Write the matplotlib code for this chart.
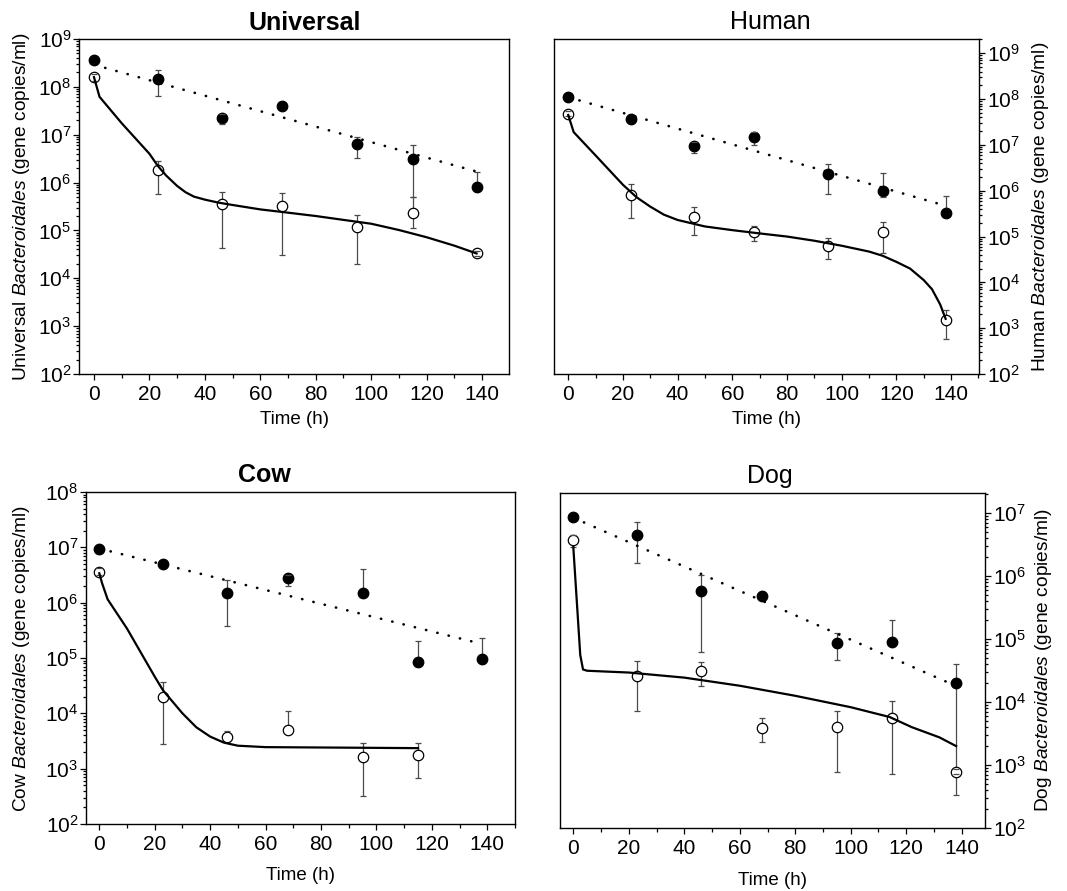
import numpy as np
import matplotlib
matplotlib.use("Agg")
import matplotlib.pyplot as plt
from matplotlib.ticker import LogLocator, MultipleLocator, NullFormatter

plt.rcParams['font.family'] = ['Liberation Sans', 'DejaVu Sans']
plt.rcParams['mathtext.fontset'] = 'custom'
plt.rcParams['mathtext.rm'] = 'Liberation Sans'
plt.rcParams['mathtext.it'] = 'Liberation Sans:italic'
plt.rcParams['mathtext.bf'] = 'Liberation Sans:bold'

nan = np.nan
time = [0, 23, 46, 68, 95, 115, 138]

# ---------------- Universal ----------------
uni_filled = [3.7e8, 1.45e8, 2.2e7, 4.0e7, 6.3e6, 3.1e6, 7.9e5]
uni_filled_hi = [nan, 2.3e8, 2.75e7, nan, 9.1e6, 6.2e6, 1.66e6]
uni_filled_lo = [nan, 6.3e7, 1.7e7, nan, 3.2e6, 5.0e5, nan]
uni_open = [1.6e8, 1.8e6, 3.5e5, 3.2e5, 1.2e5, 2.3e5, 3.3e4]
uni_open_hi = [1.9e8, 2.8e6, 6.5e5, 6.2e5, 2.1e5, 4.9e5, 3.8e4]
uni_open_lo = [1.35e8, 5.8e5, 4.3e4, 3.1e4, 2.0e4, 1.1e5, 2.9e4]
uni_dot_t = [0, 138]
uni_dot = [2.9e8, 1.7e6]
uni_fit_t = [0, 2, 10, 20, 23, 26, 30, 33, 36, 40, 45, 50, 60, 70, 80, 90, 100, 110, 120, 130, 138]
uni_fit = [1.6e8, 6.2e7, 1.74e7, 4.0e6, 2.24e6, 1.41e6, 8.5e5, 6.3e5, 5.1e5, 4.4e5, 3.8e5, 3.4e5,
           2.75e5, 2.35e5, 2.0e5, 1.66e5, 1.38e5, 1.02e5, 7.2e4, 4.8e4, 3.3e4]

# ---------------- Human ----------------
hum_filled = [1.1e8, 3.6e7, 9.5e6, 1.5e7, 2.3e6, 1.0e6, 3.2e5]
hum_filled_hi = [nan, nan, 1.17e7, 1.95e7, 3.8e6, 2.45e6, 7.8e5]
hum_filled_lo = [nan, nan, 6.8e6, 1.0e7, 8.3e5, 7.4e5, nan]
hum_open = [4.8e7, 8.1e5, 2.7e5, 1.23e5, 6.3e4, 1.23e5, 1.5e3]
hum_open_hi = [5.5e7, 1.38e6, 4.4e5, 1.66e5, 9.5e4, 2.1e5, 2.5e3]
hum_open_lo = [4.2e7, 2.6e5, 1.07e5, 8.1e4, 3.3e4, 4.3e4, 5.8e2]
hum_dot_t = [0, 138]
hum_dot = [1.1e8, 4.7e5]
hum_fit_t = [0, 2, 10, 20, 25, 30, 35, 40, 50, 60, 70, 80, 90, 100, 110, 115, 120, 125, 130, 133, 136, 138]
hum_fit = [4.5e7, 1.9e7, 5.9e6, 1.35e6, 7.2e5, 4.5e5, 3.0e5, 2.3e5, 1.66e5, 1.38e5, 1.17e5, 1.0e5,
           8.1e4, 6.3e4, 4.7e4, 3.8e4, 2.8e4, 2.0e4, 1.12e4, 7.1e3, 3.3e3, 1.6e3]

# ---------------- Cow ----------------
cow_filled = [9.5e6, 5.1e6, 1.5e6, 2.75e6, 1.5e6, 8.5e4, 9.5e4]
cow_filled_hi = [nan, nan, 2.6e6, 3.2e6, 4.0e6, 2.0e5, 2.3e5]
cow_filled_lo = [nan, nan, 3.8e5, 2.0e6, nan, nan, nan]
cow_open_time = [0, 23, 46, 68, 95, 115]
cow_open = [3.6e6, 2.0e4, 3.8e3, 5.1e3, 1.6e3, 1.8e3]
cow_open_hi = [4.2e6, 3.7e4, 4.8e3, 1.12e4, 2.9e3, 2.9e3]
cow_open_lo = [3.2e6, 2.75e3, nan, nan, 3.2e2, 6.8e2]
cow_dot_t = [0, 138]
cow_dot = [9.5e6, 1.8e5]
cow_fit_t = [0, 1, 3, 10, 20, 23, 30, 35, 40, 45, 50, 60, 115]
cow_fit = [3.4e6, 2.25e6, 1.15e6, 3.4e5, 4.6e4, 2.6e4, 1.0e4, 5.6e3, 3.8e3, 2.95e3, 2.6e3, 2.45e3, 2.35e3]

# ---------------- Dog ----------------
dog_filled = [8.7e6, 4.5e6, 5.8e5, 4.9e5, 8.7e4, 8.9e4, 2.0e4]
dog_filled_hi = [nan, 7.4e6, 1.05e6, nan, 1.26e5, 2.0e5, 4.1e4]
dog_filled_lo = [nan, 1.6e6, 6.3e4, nan, 4.7e4, nan, 7.2e2]
dog_open = [3.7e6, 2.6e4, 3.1e4, 3.9e3, 4.0e3, 5.6e3, 7.8e2]
dog_open_hi = [4.5e6, 4.5e4, 4.3e4, 5.5e3, 7.2e3, 1.05e4, 8.7e2]
dog_open_lo = [2.9e6, 7.2e3, 1.8e4, 2.3e3, 7.8e2, 7.1e2, 3.3e2]
dog_dot_t = [0, 138]
dog_dot = [8.5e6, 1.8e4]
dog_fit_t = [0, 2.5, 3.5, 5, 20, 40, 60, 80, 100, 114, 122, 132, 138]
dog_fit = [2.9e6, 5.6e4, 3.3e4, 3.15e4, 2.95e4, 2.45e4, 1.82e4, 1.26e4, 8.3e3, 5.8e3, 4.0e3, 2.75e3, 2.0e3]

W, H = 1067, 891
fig = plt.figure(figsize=(W / 100, H / 100), dpi=100)


def add_axes(l, r, t, b):
    return fig.add_axes([l / W, 1 - b / H, (r - l) / W, (b - t) / H])


ECOL = '#4a4a4a'


def draw_err(ax, tt, m, hi, lo):
    m = np.asarray(m, float)
    hi = np.asarray(hi, float)
    lo = np.asarray(lo, float)
    top = np.where(np.isnan(hi), m, hi)
    bot = np.where(np.isnan(lo), m, lo)
    ax.vlines(tt, bot, top, color=ECOL, lw=0.9, zorder=2)
    ax.plot(tt, hi, linestyle='none', marker='_', ms=5.0, mew=0.9, color=ECOL, zorder=4)
    ax.plot(tt, lo, linestyle='none', marker='_', ms=5.0, mew=0.9, color=ECOL, zorder=4)


def panel(ax, t_open, filled, fhi, flo, opn, ohi, olo, dot_t, dot, fit_t, fit,
          ylim, xlim, right, ylabel):
    draw_err(ax, time, filled, fhi, flo)
    draw_err(ax, t_open, opn, ohi, olo)
    ax.plot(time, filled, 'o', color='black', ms=7.5, zorder=3)
    ax.plot(t_open, opn, 'o', mfc='white', mec='black', mew=0.9, ms=7.5, zorder=3)
    ax.plot(dot_t, dot, color='black', lw=1.9, linestyle=(0, (0.1, 4.3)),
            dash_capstyle='round', zorder=5)
    ax.plot(fit_t, fit, color='black', lw=1.6, zorder=5)
    ax.set_yscale('log')
    ax.set_ylim(*ylim)
    ax.set_xlim(*xlim)
    ax.xaxis.set_major_locator(MultipleLocator(20))
    ax.xaxis.set_minor_locator(MultipleLocator(10))
    ax.yaxis.set_major_locator(LogLocator(base=10, numticks=20))
    ax.yaxis.set_minor_locator(LogLocator(base=10, subs=np.arange(2, 10), numticks=20))
    ax.yaxis.set_minor_formatter(NullFormatter())
    for s in ax.spines.values():
        s.set_linewidth(1.0)
    ax.tick_params(axis='x', which='both', direction='out', top=False, labelsize=15, pad=4,
                   width=0.9)
    ax.tick_params(axis='x', which='major', length=4)
    ax.tick_params(axis='x', which='minor', length=3)
    if right:
        ax.yaxis.tick_right()
        ax.yaxis.set_label_position('right')
        ax.tick_params(axis='y', which='both', direction='out', left=False, right=True,
                       labelsize=15, pad=1, width=0.9)
    else:
        ax.tick_params(axis='y', which='both', direction='out', right=False, labelsize=15,
                       pad=1, width=0.9)
    ax.tick_params(axis='y', which='major', length=4.5)
    ax.tick_params(axis='y', which='minor', length=2.3)
    ax.set_ylabel(ylabel, fontsize=13.8)
    ax.set_xlabel('Time (h)', fontsize=13.5)


ax1 = add_axes(79, 509, 39, 374)
panel(ax1, time, uni_filled, uni_filled_hi, uni_filled_lo, uni_open, uni_open_hi, uni_open_lo,
      uni_dot_t, uni_dot, uni_fit_t, uni_fit, (1e2, 1e9), (-5.4, 149.7), False,
      r'Universal $\mathit{Bacteroidales}$ (gene copies/ml)')
ax1.yaxis.set_label_coords(-0.109, 0.5)
ax1.xaxis.set_label_coords(0.5, -0.11)

ax2 = add_axes(554, 979, 39, 374)
panel(ax2, time, hum_filled, hum_filled_hi, hum_filled_lo, hum_open, hum_open_hi, hum_open_lo,
      hum_dot_t, hum_dot, hum_fit_t, hum_fit, (1e2, 2.05e9), (-5.2, 150.2), True,
      r'Human $\mathit{Bacteroidales}$ (gene copies/ml)')
ax2.yaxis.set_label_coords(1.12, 0.5)
ax2.xaxis.set_label_coords(0.5, -0.11)

ax3 = add_axes(86, 515, 492, 824)
panel(ax3, cow_open_time, cow_filled, cow_filled_hi, cow_filled_lo, cow_open, cow_open_hi,
      cow_open_lo, cow_dot_t, cow_dot, cow_fit_t, cow_fit, (1e2, 1e8), (-4.8, 150.0), False,
      r'Cow $\mathit{Bacteroidales}$ (gene copies/ml)')
ax3.yaxis.set_label_coords(-0.126, 0.5)
ax3.xaxis.set_label_coords(0.5, -0.13)

ax4 = add_axes(560, 985, 493, 828)
panel(ax4, time, dog_filled, dog_filled_hi, dog_filled_lo, dog_open, dog_open_hi, dog_open_lo,
      dog_dot_t, dog_dot, dog_fit_t, dog_fit, (1e2, 2.1e7), (-4.8, 148.4), True,
      r'Dog $\mathit{Bacteroidales}$ (gene copies/ml)')
ax4.yaxis.set_label_coords(1.113, 0.5)
ax4.xaxis.set_label_coords(0.5, -0.13)

fig.text(305 / W, 1 - 30 / H, 'Universal', fontsize=18, fontweight='bold', ha='center', va='baseline')
fig.text(770 / W, 1 - 29 / H, 'Human', fontsize=18, ha='center', va='baseline')
fig.text(264 / W, 1 - 482 / H, 'Cow', fontsize=18, fontweight='bold', ha='center', va='baseline')
fig.text(770 / W, 1 - 483 / H, 'Dog', fontsize=18, ha='center', va='baseline')

fig.savefig('out.png', dpi=100)
